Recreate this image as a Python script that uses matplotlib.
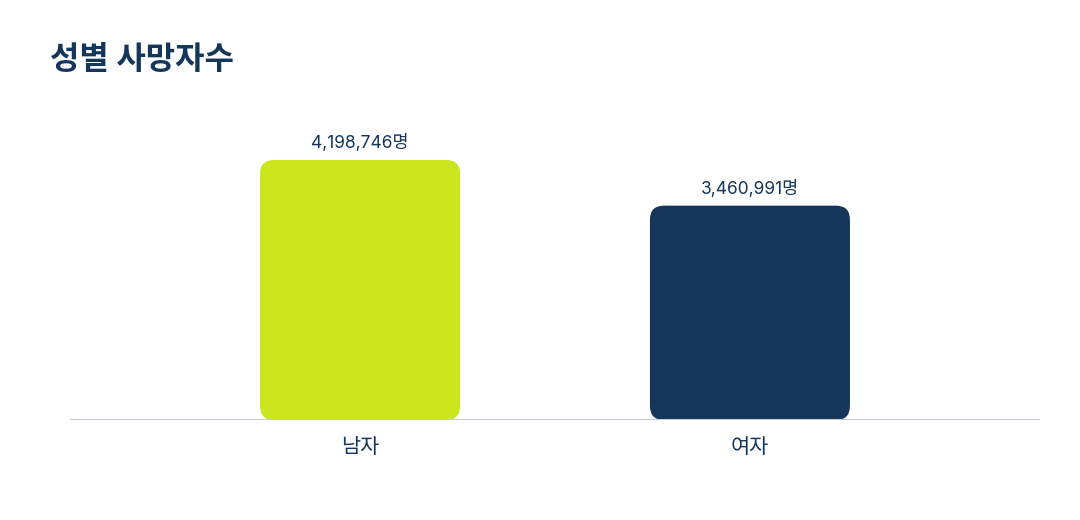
import matplotlib
matplotlib.use('Agg')
import matplotlib.pyplot as plt
from matplotlib.patches import FancyBboxPatch

plt.rcParams['font.family'] = ['Inter', 'Noto Sans CJK KR', 'DejaVu Sans']

categories = ['남자', '여자']
deaths = [4198746, 3460991]
colors = ['#cce61e', '#13365a']
title = '성별 사망자수'

navy = '#13365a'

fig = plt.figure(figsize=(10.8, 5.2), dpi=100)
ax = fig.add_axes([70 / 1080, 100 / 520, 970 / 1080, 320 / 520])

x = range(len(categories))
bars = ax.bar(x, deaths, width=0.513, color=colors)
ax.set_xlim(-0.744, 1.744)
ax.set_ylim(0, 5.167e6)

# swap plain bars for rounded ones (radius in pixels -> data units)
px_x = (1.744 + 0.744) / 970
px_y = 5.167e6 / 320
r = 14
for b in bars:
    b.set_visible(False)
    rb = FancyBboxPatch((b.get_x(), 0), b.get_width(), b.get_height(),
                        boxstyle=f'round,pad=0,rounding_size={r * px_x}',
                        mutation_aspect=px_y / px_x,
                        facecolor=b.get_facecolor(), edgecolor='none', zorder=2)
    ax.add_patch(rb)

for i, v in enumerate(deaths):
    ax.text(i, v + 8 * px_y, f'{v:,}명', ha='center', va='bottom',
            fontsize=12.5, color=navy)

ax.axhline(0, color='#c5ccd6', lw=1.5, zorder=3)
for s in ax.spines.values():
    s.set_visible(False)
ax.set_yticks([])
ax.set_xticks(list(x))
ax.set_xticklabels(categories, fontsize=15, color=navy)
ax.tick_params(axis='x', length=0, pad=12)

fig.text(50 / 1080, 1 - 60 / 520, title, fontsize=23, fontweight='bold',
         color=navy, ha='left', va='center')

fig.savefig('out.png', dpi=100)
